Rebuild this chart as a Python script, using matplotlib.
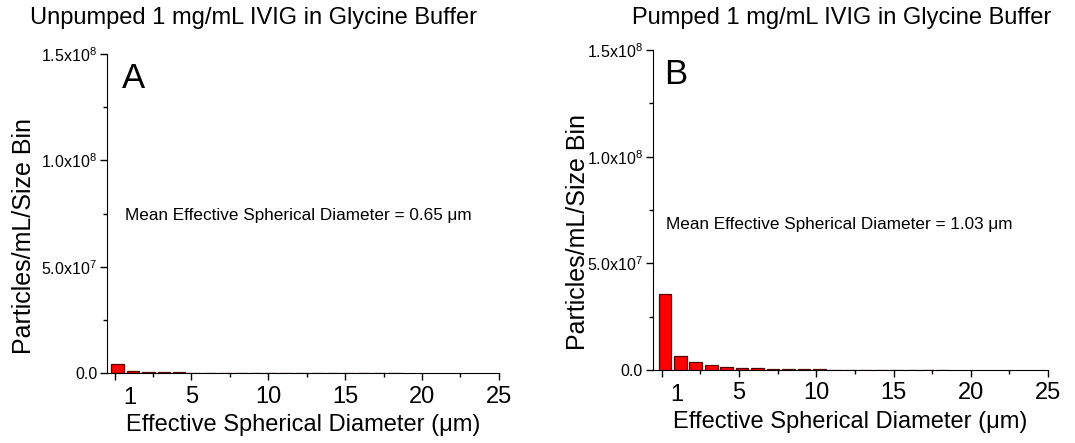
import numpy as np
import matplotlib
matplotlib.use('Agg')
import matplotlib.pyplot as plt
from matplotlib.ticker import MultipleLocator

plt.rcParams['font.family'] = ['Liberation Sans', 'DejaVu Sans']
plt.rcParams['mathtext.fontset'] = 'custom'
plt.rcParams['mathtext.rm'] = 'Liberation Sans'

# bin positions (um) and counts per size bin
diam = [0.2, 1.2, 2.2, 3.2, 4.2, 5.2, 6.2, 7.2, 8.2, 9.2,
        10.2, 11.2, 12.2, 13.2, 14.2, 15.2, 16.2, 17.2, 18.2]
unpumped = [4.1e6, 0.9e6, 0.5e6, 0.35e6, 0.25e6, 0.2e6, 0.15e6, 0.12e6, 0.1e6, 0.1e6,
            0.08e6, 0.08e6, 0.06e6, 0.06e6, 0.05e6, 0.05e6, 0.04e6, 0.04e6, 0.03e6]
pumped = [3.55e7, 6.7e6, 3.6e6, 2.35e6, 1.55e6, 0.94e6, 0.8e6, 0.35e6, 0.3e6, 0.25e6,
          0.2e6, 0.15e6, 0.12e6, 0.1e6, 0.1e6, 0.08e6, 0.06e6, 0.05e6, 0.04e6]

titles = ['Unpumped 1 mg/mL IVIG in Glycine Buffer', 'Pumped 1 mg/mL IVIG in Glycine Buffer']
letters = ['A', 'B']
means = ['0.65', '1.03']
xticks = [0, 5, 10, 15, 20, 25]
xticklabels = ['', '5', '10', '15', '20', '25']
yticks = [0, 5e7, 1e8, 1.5e8]
yticklabels = ['0.0', r'5.0x10$^7$', r'1.0x10$^8$', r'1.5x10$^8$']

fig = plt.figure(figsize=(10.75, 4.43), dpi=100)
ax1 = fig.add_axes([0.0995, 0.158, 0.3645, 0.720])
ax2 = fig.add_axes([0.607, 0.165, 0.368, 0.722])

panels = [(ax1, unpumped, letters[0], means[0], -0.5, (0.046, 0.495), (0.038, -0.182)),
          (ax2, pumped, letters[1], means[1], -0.6, (0.035, 0.456), (0.03, -0.158))]
for ax, vals, letter, mean, xl, mpos, lpos in panels:
    ax.bar(diam, vals, width=0.82, color='#ff0000', edgecolor='#5a0000', linewidth=0.9)
    ax.set_xlim(xl, 25)
    ax.set_ylim(0, 1.5e8)
    ax.spines['top'].set_visible(False)
    ax.spines['right'].set_visible(False)
    ax.set_xticks(xticks)
    ax.set_xticklabels(xticklabels, fontsize=17)
    ax.xaxis.set_minor_locator(MultipleLocator(2.5))
    ax.set_yticks(yticks)
    ax.set_yticklabels(yticklabels, fontsize=11.5)
    ax.yaxis.set_minor_locator(MultipleLocator(2.5e7))
    ax.tick_params(which='major', length=5, width=1)
    ax.tick_params(which='minor', length=3, width=1)
    ax.tick_params(axis='x', pad=4)
    ax.tick_params(axis='y', pad=2)
    ax.text(1, -0.045, '1', transform=ax.get_xaxis_transform(), ha='center', va='top', fontsize=17)
    ax.set_xlabel('Effective Spherical Diameter (μm)', fontsize=17, labelpad=5)
    ax.set_ylabel('Particles/mL/Size Bin', fontsize=18)
    ax.yaxis.set_label_coords(lpos[1], 0.43)
    ax.text(lpos[0], 0.975, letter, transform=ax.transAxes, fontsize=25, va='top')
    ax.text(mpos[0], mpos[1], 'Mean Effective Spherical Diameter = ' + mean + ' μm',
            transform=ax.transAxes, fontsize=12.3, va='center')

fig.text(0.236, 0.959, titles[0], ha='center', va='center', fontsize=17)
fig.text(0.783, 0.959, titles[1], ha='center', va='center', fontsize=17)

fig.savefig('out.png', dpi=100)
